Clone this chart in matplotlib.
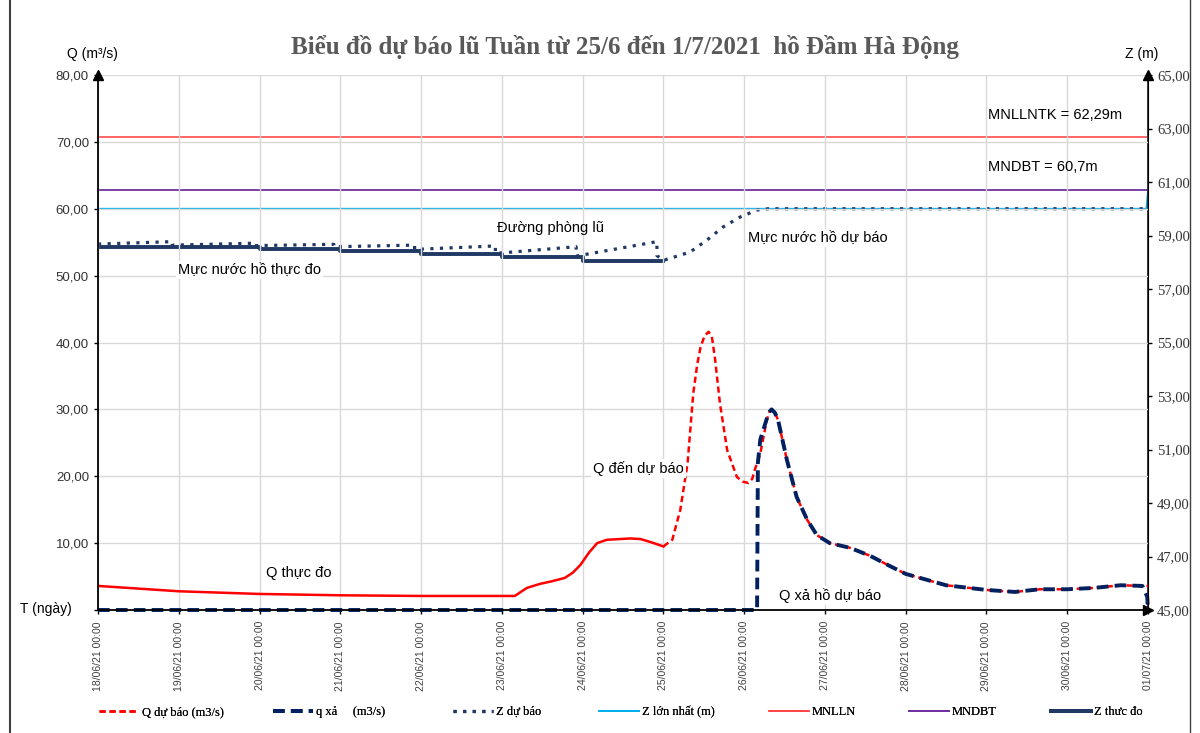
import matplotlib
matplotlib.use("Agg")
import matplotlib.pyplot as plt
from matplotlib.lines import Line2D

# ---- data ----
# time in days from 18/06/21 00:00
day_ticks = list(range(14))
day_labels = ["18/06/21 00:00", "19/06/21 00:00", "20/06/21 00:00", "21/06/21 00:00",
              "22/06/21 00:00", "23/06/21 00:00", "24/06/21 00:00", "25/06/21 00:00",
              "26/06/21 00:00", "27/06/21 00:00", "28/06/21 00:00", "29/06/21 00:00",
              "30/06/21 00:00", "01/07/21 00:00"]

# measured inflow (solid red)
q_obs_t = [0.0, 0.5, 1.0, 1.5, 2.0, 3.0, 4.0, 5.0, 5.16, 5.31, 5.47, 5.62, 5.78, 5.88,
           5.97, 6.08, 6.18, 6.30, 6.45, 6.59, 6.72, 6.83, 6.93, 7.0]
q_obs = [3.6, 3.2, 2.8, 2.6, 2.4, 2.2, 2.1, 2.1, 2.1, 3.3, 3.9, 4.3, 4.8, 5.6,
         6.7, 8.6, 10.0, 10.5, 10.6, 10.7, 10.6, 10.2, 9.8, 9.5]

# forecast inflow (dashed red)
q_fc_t = [7.0, 7.11, 7.21, 7.30, 7.37, 7.42, 7.46, 7.51, 7.56, 7.60, 7.64, 7.70, 7.79,
          7.91, 7.98, 8.05, 8.10, 8.13, 8.20, 8.28, 8.31, 8.34, 8.38, 8.42, 8.53, 8.65,
          8.78, 8.90, 9.06, 9.31, 9.56, 9.80, 10.0, 10.5, 11.0, 11.35, 11.66, 12.0,
          12.33, 12.66, 12.93, 13.0]
q_fc = [9.5, 10.5, 15.0, 22.0, 32.4, 36.8, 39.3, 41.0, 41.6, 40.9, 37.5, 30.9, 23.9,
        19.9, 19.2, 19.0, 19.6, 20.9, 23.4, 28.4, 29.6, 30.0, 29.5, 28.4, 22.4, 16.9,
        13.5, 11.2, 10.0, 9.3, 8.1, 6.6, 5.4, 3.7, 3.0, 2.7, 3.1, 3.1,
        3.3, 3.7, 3.6, 3.6]

# forecast discharge (navy dashed)
q_xa_t = [0.0, 8.16, 8.17, 8.20, 8.28, 8.31, 8.34, 8.38, 8.42, 8.53, 8.65, 8.78, 8.90,
          9.06, 9.31, 9.56, 9.80, 10.0, 10.5, 11.0, 11.35, 11.66, 12.0, 12.33, 12.66,
          12.93, 12.99, 13.0]
q_xa = [0.0, 0.0, 22.0, 25.5, 28.6, 29.6, 30.0, 29.5, 28.4, 22.4, 16.9, 13.5, 11.2,
        10.0, 9.3, 8.1, 6.6, 5.4, 3.7, 3.0, 2.7, 3.1, 3.1, 3.3, 3.7,
        3.6, 2.0, 0.0]

# measured reservoir level (steps, one value per day)
z_obs_t = [0, 1, 2, 3, 4, 5, 6, 7]
z_obs = [58.58, 58.56, 58.50, 58.43, 58.31, 58.18, 58.06, 58.06]

# forecast reservoir level (dotted)
z_fc_t = [0.0, 0.92, 0.92, 1.92, 1.92, 2.92, 2.92, 3.92, 3.92, 4.92, 4.92, 5.92, 5.92,
          6.92, 6.92, 7.0, 7.33, 7.54, 7.74, 7.95, 8.16, 8.3, 13.0]
z_fc = [58.68, 58.77, 58.64, 58.71, 58.62, 58.67, 58.58, 58.64, 58.48, 58.61, 58.33,
        58.58, 58.23, 58.77, 58.25, 58.07, 58.38, 58.83, 59.32, 59.69, 59.95, 60.0, 60.0]

# max level line
z_max_t = [0.0, 12.98, 13.0]
z_max = [60.0, 60.0, 60.7]

mnlln = 62.67
mndbt = 60.70

# ---- figure ----
plt.rcParams['font.family'] = ['Liberation Sans', 'DejaVu Sans']
fig = plt.figure(figsize=(12, 7.33), dpi=100)
ax = fig.add_axes([98 / 1200, 1 - 610 / 733, 1050 / 1200, 535 / 733])
ax2 = ax.twinx()

navy = "#1f3864"
red = "#ff0000"

ax.set_xlim(0, 13)
ax.set_ylim(0, 80)
ax2.set_ylim(45, 65)

ax.set_yticks(range(0, 81, 10))
ax.set_yticklabels([""] + [f"{v},00" for v in range(10, 81, 10)], fontsize=9.5, color="#333333")
ax2.set_yticks(range(45, 66, 2))
ax2.set_yticklabels([f"{v},00" for v in range(45, 66, 2)], fontsize=10.5,
                    color="#333333", family="Liberation Serif")
ax.set_xticks(day_ticks)
ax.set_xticklabels(day_labels, rotation=90, fontsize=7.5, color="#404040")

ax.grid(True, color="#d9d9d9", lw=1)
ax.set_axisbelow(True)
for a in (ax, ax2):
    a.spines['top'].set_visible(False)
    a.tick_params(length=3, width=1)
ax.tick_params(axis='x', pad=5)
ax2.spines['left'].set_visible(False)
ax2.spines['bottom'].set_visible(False)
for s in ('left', 'bottom'):
    ax.spines[s].set_linewidth(1.3)
ax2.spines['right'].set_linewidth(1.3)

# axis arrows
ax.plot([0], [1], marker="^", color="black", ms=7, transform=ax.transAxes, clip_on=False)
ax.plot([1], [1], marker="^", color="black", ms=7, transform=ax.transAxes, clip_on=False)
ax.plot([1], [0], marker=">", color="black", ms=7, transform=ax.transAxes, clip_on=False)

# Z lines (right axis)
h_mnlln = ax2.axhline(mnlln, color="#ff3b3b", lw=1.1)
h_mndbt = ax2.axhline(mndbt, color="#7030a0", lw=1.3)
h_zmax, = ax2.plot(z_max_t, z_max, color="#00b0f0", lw=1.3)
h_zfc, = ax2.plot(z_fc_t, z_fc, color=navy, lw=2.3, linestyle=(0, (1, 2)))
h_zobs, = ax2.plot(z_obs_t, z_obs, color=navy, lw=2.8, drawstyle="steps-post")

# Q lines (left axis, drawn on top)
ax.set_zorder(ax2.get_zorder() + 1)
ax.patch.set_visible(False)
ax.plot(q_obs_t, q_obs, color=red, lw=1.8)
h_qfc, = ax.plot(q_fc_t, q_fc, color=red, lw=1.8, linestyle=(0, (2.5, 1.5)))
h_qxa, = ax.plot(q_xa_t, q_xa, color="#002060", lw=2.8, linestyle=(0, (3, 1.6)),
                 clip_on=False)

# annotations
white = dict(facecolor="white", edgecolor="none", pad=1.5)
ax.text(1.88, 50.8, "Mực nước hồ thực đo", fontsize=10.5, ha="center", va="center", bbox=white)
ax.text(5.6, 57.1, "Đường phòng lũ", fontsize=10.5, ha="center", va="center")
ax.text(8.91, 55.6, "Mực nước hồ dự báo", fontsize=10.5, ha="center", va="center", bbox=white)
ax.text(6.69, 21.2, "Q đến dự báo", fontsize=10.5, ha="center", va="center", bbox=white)
ax.text(2.48, 5.5, "Q thực đo", fontsize=10.5, ha="center", va="center")
ax.text(9.06, 2.1, "Q xả hồ dự báo", fontsize=10.5, ha="center", va="center", bbox=white)
ax.text(11.02, 74.0, "MNLLNTK = 62,29m", fontsize=10.5, ha="left", va="center")
ax.text(11.02, 66.2, "MNDBT = 60,7m", fontsize=10.5, ha="left", va="center")

# titles / axis captions
fig.text(625 / 1200, 1 - 47 / 733, "Biểu đồ dự báo lũ Tuần từ 25/6 đến 1/7/2021  hồ Đầm Hà Động",
         family="Liberation Serif", weight="bold", fontsize=18, color="#595959",
         ha="center", va="center")
fig.text(92 / 1200, 1 - 54 / 733, "Q (m³/s)", fontsize=10, ha="center", va="center")
fig.text(1142 / 1200, 1 - 54 / 733, "Z (m)", fontsize=10, ha="center", va="center")
fig.text(46 / 1200, 1 - 609 / 733, "T (ngày)", fontsize=10, ha="center", va="center")

# legend, one entry per box placed along the bottom
handles = [h_qfc, h_qxa, h_zfc, h_zmax, h_mnlln, h_mndbt, h_zobs]
labels = ["Q dự báo (m3/s)", "q xả     (m3/s)", "Z dự báo", "Z lớn nhất (m)",
          "MNLLN", "MNDBT", "Z thưc đo"]
leg_x = [88, 262, 442, 588, 758, 898, 1040]
for h, lab, x in zip(handles, labels, leg_x):
    lg = fig.legend(handles=[h], labels=[lab], loc="center left",
                    bbox_to_anchor=(x / 1200, 1 - 712 / 733), frameon=False,
                    handlelength=3.2, handletextpad=0.2,
                    prop={"family": "Liberation Serif", "size": 9})
    fig.add_artist(lg)

# chart border lines
fig.add_artist(Line2D([10 / 1200, 10 / 1200], [0, 1], color="#404040", lw=1.5))
fig.add_artist(Line2D([1190 / 1200, 1190 / 1200], [0, 1], color="#404040", lw=1.0))

fig.savefig("out.png", dpi=100)
